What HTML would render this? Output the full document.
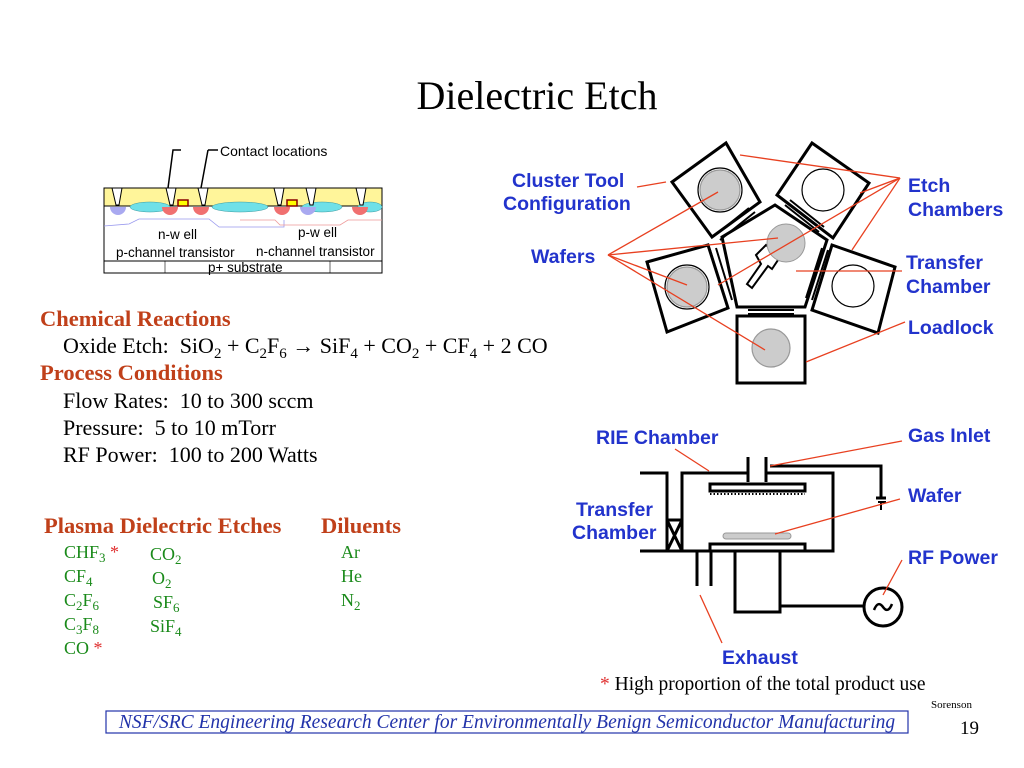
<!DOCTYPE html>
<html><head><meta charset="utf-8"><style>
html,body{margin:0;padding:0;background:#fff;}
svg{display:block}
text{white-space:pre}
.s{font-family:"Liberation Serif",serif;}
.a{font-family:"Liberation Sans",sans-serif;}
.r{fill:#c0401a;font-weight:bold;font-size:22.5px;}
.k{fill:#000;font-size:22px;}
.g{fill:#1a8a1a;font-size:18px;}
.b{fill:#2233cc;font-weight:bold;font-size:19.5px;}
</style></head><body>
<svg width="1024" height="768" viewBox="0 0 1024 768" xmlns="http://www.w3.org/2000/svg" xml:space="preserve">
<text x="537" y="109" text-anchor="middle" class="s" font-size="40">Dielectric Etch</text>

<!-- cross-section -->
<g>
<rect x="104" y="188" width="278" height="85" fill="#fff" stroke="#000" stroke-width="1"/>
<rect x="104" y="188" width="278" height="18" fill="#fff59a" stroke="#000" stroke-width="1"/>
<g fill="#6fe0e8" stroke="#3a9aa0" stroke-width="0.5">
<ellipse cx="150" cy="207" rx="20" ry="5"/><ellipse cx="240" cy="207" rx="28" ry="5"/>
<ellipse cx="322" cy="207" rx="20" ry="5"/><ellipse cx="370" cy="207" rx="12" ry="5"/>
</g>
<g fill="#a9a9f0"><path d="M110 207a8 8 0 0 0 16 0z"/><path d="M300 207a8 8 0 0 0 16 0z"/></g>
<g fill="#f07070"><path d="M162 207a8 8 0 0 0 16 0z"/><path d="M193 207a8 8 0 0 0 16 0z"/><path d="M352 207a8 8 0 0 0 16 0z"/><path d="M274 207a8 8 0 0 0 16 0z"/></g>
<rect x="178" y="200" width="10" height="6" fill="#ff0" stroke="#800" stroke-width="1.5"/>
<rect x="287" y="200" width="10" height="6" fill="#ff0" stroke="#800" stroke-width="1.5"/>
<g fill="#fff" stroke="#000" stroke-width="1"><path d="M112 188l4 17h3l3-17z"/><path d="M166 188l4 17h3l3-17z"/><path d="M198 188l4 17h3l3-17z"/><path d="M274 188l4 17h3l3-17z"/><path d="M306 188l4 17h3l3-17z"/><path d="M356 188l4 17h3l3-17z"/></g>
<path d="M104 226l25-2 10-5 70 0 10 8 65 0 0-7" fill="none" stroke="#9999ee" stroke-width="0.8"/>
<path d="M240 220l35 0 5 5 60 0 8 -5 34 0" fill="none" stroke="#ee9999" stroke-width="0.8"/>
<line x1="104" y1="261" x2="382" y2="261" stroke="#000"/>
<line x1="165" y1="261" x2="165" y2="273" stroke="#000" stroke-width="0.6"/>
<line x1="330" y1="261" x2="330" y2="273" stroke="#000" stroke-width="0.6"/>
<text x="158" y="239" class="a" font-size="13.5">n-w ell</text>
<text x="298" y="237" class="a" font-size="13.5">p-w ell</text>
<text x="116" y="257" class="a" font-size="13.5">p-channel transistor</text>
<text x="256" y="256" class="a" font-size="13.5">n-channel transistor</text>
<text x="208" y="272" class="a" font-size="13.5">p+ substrate</text>
<path d="M168 188l5-38h8M201 188l7-38" fill="none" stroke="#000" stroke-width="1.5"/>
<line x1="208" y1="150" x2="218" y2="150" stroke="#000" stroke-width="1.5"/>
<text x="220" y="156" class="a" font-size="14">Contact locations</text>
</g>

<!-- left text -->
<text x="40" y="326" class="s r">Chemical Reactions</text>
<text x="63" y="353" class="s k">Oxide Etch:  SiO<tspan font-size="15" dy="5">2</tspan><tspan dy="-5"> + C</tspan><tspan font-size="15" dy="5">2</tspan><tspan dy="-5">F</tspan><tspan font-size="15" dy="5">6</tspan><tspan dy="-5"> → SiF</tspan><tspan font-size="15" dy="5">4</tspan><tspan dy="-5"> + CO</tspan><tspan font-size="15" dy="5">2</tspan><tspan dy="-5"> + CF</tspan><tspan font-size="15" dy="5">4</tspan><tspan dy="-5"> + 2 CO</tspan></text>
<text x="40" y="380" class="s r">Process Conditions</text>
<text x="63" y="408" class="s k">Flow Rates:  10 to 300 sccm</text>
<text x="63" y="435" class="s k">Pressure:  5 to 10 mTorr</text>
<text x="63" y="462" class="s k">RF Power:  100 to 200 Watts</text>

<text x="44" y="533" class="s r">Plasma Dielectric Etches</text>
<text x="321" y="533" class="s r">Diluents</text>
<g class="s g">
<text x="64" y="558">CHF<tspan font-size="13" dy="4">3</tspan><tspan dy="-4" fill="#e03030"> *</tspan></text>
<text x="64" y="582">CF<tspan font-size="13" dy="4">4</tspan></text>
<text x="64" y="606">C<tspan font-size="13" dy="4">2</tspan><tspan dy="-4">F</tspan><tspan font-size="13" dy="4">6</tspan></text>
<text x="64" y="630">C<tspan font-size="13" dy="4">3</tspan><tspan dy="-4">F</tspan><tspan font-size="13" dy="4">8</tspan></text>
<text x="64" y="654">CO<tspan fill="#e03030"> *</tspan></text>
<text x="150" y="560">CO<tspan font-size="13" dy="4">2</tspan></text>
<text x="152" y="584">O<tspan font-size="13" dy="4">2</tspan></text>
<text x="153" y="608">SF<tspan font-size="13" dy="4">6</tspan></text>
<text x="150" y="632">SiF<tspan font-size="13" dy="4">4</tspan></text>
<text x="341" y="558">Ar</text>
<text x="341" y="582">He</text>
<text x="341" y="606">N<tspan font-size="13" dy="4">2</tspan></text>
</g>

<!-- cluster tool -->
<g stroke="#000" stroke-width="3" fill="#fff">
<polygon points="722,237 775,205 827,240 805,307 737,307"/>
<polygon points="672,182 726,143 760,202 712,237"/>
<polygon points="812,143 869,183 833,238 777,195"/>
<polygon points="647,262 708,245 728,308 667,332"/>
<polygon points="832,245 895,267 878,333 812,310"/>
<rect x="737" y="316" width="68" height="67"/>
</g>
<g stroke="#000" stroke-width="2" fill="none">
<path d="M714 236l35-28M720 240l35-28"/><path d="M785 205l34 27M790 200l34 27"/>
<path d="M710 250l16 52M716 248l16 52"/><path d="M828 250l-16 50M822 248l-16 50"/>
<path d="M748 310h46M748 314h46"/>
</g>
<g stroke="#000" stroke-width="1.2">
<circle cx="720" cy="190" r="22" fill="#fff"/><circle cx="720" cy="190" r="20" fill="#ccc" stroke="#999"/>
<circle cx="823" cy="190" r="21" fill="#fff"/>
<circle cx="687" cy="287" r="22" fill="#fff"/><circle cx="687" cy="287" r="20" fill="#ccc" stroke="#999"/>
<circle cx="853" cy="286" r="21" fill="#fff"/>
<circle cx="771" cy="348" r="19" fill="#ccc" stroke="#999"/>
</g>
<path d="M756 255l10-10 14 12-8 12 -4 -3-16 22-5-4 14-20z" fill="#fff" stroke="#000" stroke-width="2"/>
<circle cx="786" cy="243" r="19" fill="#ccc" stroke="#999"/>
<g stroke="#e84020" stroke-width="1.3">
<line x1="900" y1="178" x2="740" y2="155"/><line x1="900" y1="178" x2="860" y2="193"/>
<line x1="900" y1="178" x2="852" y2="250"/><line x1="900" y1="178" x2="718" y2="285"/>
<line x1="637" y1="187" x2="666" y2="182"/>
<line x1="608" y1="255" x2="718" y2="192"/><line x1="608" y1="255" x2="778" y2="238"/>
<line x1="608" y1="255" x2="687" y2="285"/><line x1="608" y1="255" x2="765" y2="350"/>
<line x1="796" y1="271" x2="902" y2="271"/><line x1="806" y1="362" x2="905" y2="322"/>
</g>

<!-- RIE -->
<g stroke="#000" stroke-width="3" fill="none">
<path d="M640 473h27v78"/><path d="M682 551v-78h65M766 473h67v78H640"/>
<path d="M748 482v-25M766 482v-25"/>
<path d="M682 520l-15 31M667 520l15 31M667 520h15"/>
<rect x="710" y="484" width="95" height="7"/>
<rect x="710" y="544" width="95" height="7"/>
<path d="M735 551v61h45v-61"/>
<path d="M697 552v34M711 552v34"/>
<path d="M770 466h111v32"/><path d="M876 498h10"/>
<path d="M780 606h83"/>
<circle cx="883" cy="607" r="19"/>
</g>
<path d="M878 502h8M881 502v8" stroke="#000" stroke-width="2"/>
<path d="M710 494h95" stroke="#000" stroke-width="2" stroke-dasharray="1.5 2"/>
<path d="M874 610q4-10 9-3t9-3" stroke="#000" stroke-width="2.5" fill="none"/>
<rect x="723" y="533" width="68" height="6" rx="3" fill="#ccc" stroke="#999"/>
<g stroke="#e84020" stroke-width="1.3">
<line x1="675" y1="449" x2="709" y2="471"/><line x1="902" y1="441" x2="770" y2="466"/>
<line x1="900" y1="499" x2="775" y2="534"/><line x1="902" y1="560" x2="883" y2="595"/>
<line x1="700" y1="595" x2="722" y2="643"/>
</g>

<g class="a b">
<text x="512" y="187">Cluster Tool</text><text x="503" y="210">Configuration</text>
<text x="531" y="263">Wafers</text>
<text x="908" y="192">Etch</text><text x="908" y="216">Chambers</text>
<text x="906" y="269">Transfer</text><text x="906" y="293">Chamber</text>
<text x="908" y="334">Loadlock</text>
<text x="596" y="444">RIE Chamber</text>
<text x="908" y="442">Gas Inlet</text>
<text x="576" y="516">Transfer</text><text x="572" y="539">Chamber</text>
<text x="908" y="502">Wafer</text>
<text x="908" y="564">RF Power</text>
<text x="722" y="664">Exhaust</text>
</g>

<text x="600" y="690" class="s" font-size="19.5"><tspan fill="#e03030">*</tspan> High proportion of the total product use</text>
<text x="931" y="708" class="s" font-size="11">Sorenson</text>
<rect x="106" y="711" width="802" height="22" fill="none" stroke="#2233aa" stroke-width="1.2"/>
<text x="507" y="728" text-anchor="middle" class="s" font-size="19.5" font-style="italic" fill="#2233aa">NSF/SRC Engineering Research Center for Environmentally Benign Semiconductor Manufacturing</text>
<text x="960" y="734" class="s" font-size="19">19</text>
</svg>
</body></html>
